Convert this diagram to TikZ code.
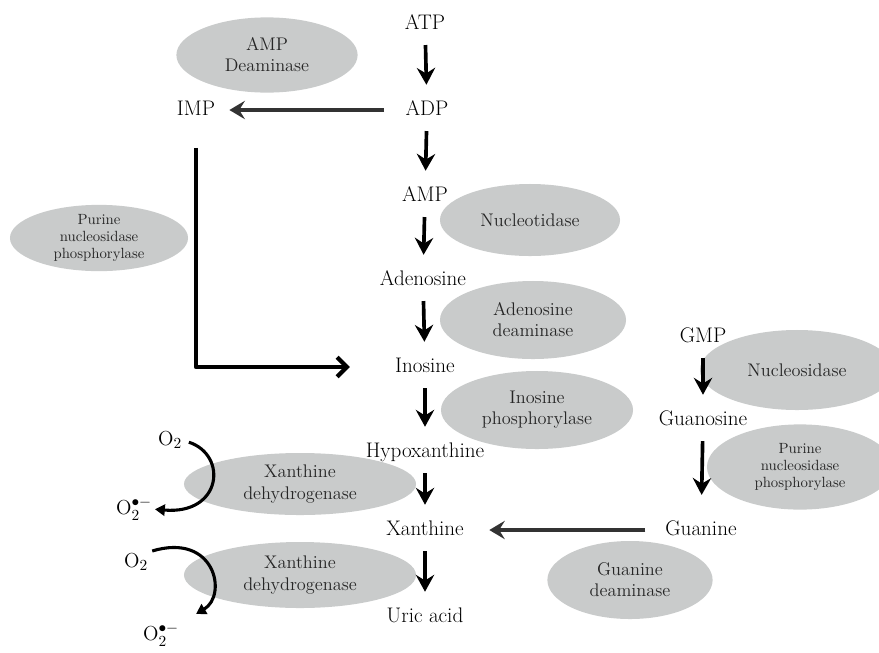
\documentclass[tikz,border=0pt]{standalone}
\usepackage{amsmath}
\usepackage{tikz}
\usepackage{xcolor}
\usetikzlibrary{arrows,arrows.meta,positioning,shapes.geometric}
\definecolor{enzfill}{RGB}{201,203,203}

\begin{document}
\begin{tikzpicture}[x=0.025cm,y=-0.025cm,
  met/.style={font=\fontsize{15}{17}\selectfont,inner sep=0pt,text height=10.5pt,text depth=3pt},
  enz/.style={ellipse,fill=enzfill,inner sep=0pt,align=center,text=black!85,font=\fontsize{13}{15}\selectfont},
  enzs/.style={enz,font=\fontsize{10.5}{12}\selectfont},
  flow/.style={line width=2.6pt,-{Stealth[length=12pt,width=13pt,inset=4pt]},shorten <=8pt,shorten >=11pt},
  react/.style={draw=black!80,line width=2.6pt,-{Stealth[length=11pt,width=13pt,inset=4pt]}},
  redox/.style={line width=2.2pt,-{Triangle[length=7pt,width=8pt]}}]
\useasboundingbox (0,0) rectangle (879,652);

% enzymes
\node[enz,minimum width=4.53cm,minimum height=1.88cm] (ampd) at (267,55){AMP\\Deaminase};
\node[enzs,minimum width=4.45cm,minimum height=1.63cm] (pnpl) at (99,238){Purine\\nucleosidase\\phosphorylase};
\node[enz,minimum width=4.5cm,minimum height=1.8cm] (nt) at (530,220){Nucleotidase};
\node[enz,minimum width=4.65cm,minimum height=1.95cm] (ada) at (533,320){Adenosine\\deaminase};
\node[enz,minimum width=4.8cm,minimum height=1.95cm] (inp) at (537,410){Inosine\\phosphorylase};
\node[enz,minimum width=5.8cm,minimum height=1.55cm] (xdha) at (300,484){Xanthine\\dehydrogenase};
\node[enz,minimum width=5.8cm,minimum height=1.65cm] (xdhb) at (300,575){Xanthine\\dehydrogenase};
\node[enz,minimum width=4.85cm,minimum height=2cm] (ns) at (797,370){Nucleosidase};
\node[enzs,minimum width=4.65cm,minimum height=2.13cm] (pnpr) at (800,467){Purine\\nucleosidase\\phosphorylase};
\node[enz,minimum width=4.13cm,minimum height=1.95cm] (gda) at (630,580){Guanine\\deaminase};

% metabolites
\node[met] (atp) at (425,24){ATP};
\node[met] (adp) at (427,110){ADP};
\node[met] (imp) at (196,110){IMP};
\node[met] (amp) at (425,196){AMP};
\node[met] (ado) at (423,280){Adenosine};
\node[met] (ino) at (425,367){Inosine};
\node[met] (hyp) at (425,452){Hypoxanthine};
\node[met] (xan) at (425,530){Xanthine};
\node[met] (uric) at (425,617){Uric acid};
\node[met] (gmp) at (703,337){GMP};
\node[met] (guo) at (703,420){Guanosine};
\node[met] (gua) at (701,530){Guanine};

% oxygen
\node[met] (oa) at (170,440){$\mathrm{O}_2$};
\node[met] (osa) at (134,509){$\mathrm{O}_2^{\bullet-}$};
\node[met] (ob) at (136,562){$\mathrm{O}_2$};
\node[met] (osb) at (161,635){$\mathrm{O}_2^{\bullet-}$};

\draw[flow] (atp) -- (adp);
\draw[flow] (adp) -- (amp);
\draw[flow] (amp) -- (ado);
\draw[flow] (ado) -- (ino);
\draw[flow] (ino) -- (hyp);
\draw[flow] (hyp) -- (xan);
\draw[flow] (xan) -- (uric);
\draw[flow] (gmp) -- (guo);
\draw[flow,shorten >=18pt] (guo) -- (gua);

\draw[react,shorten <=15pt,shorten >=10pt] (adp) -- (imp);
\draw[react,shorten <=14pt,shorten >=18pt] (gua) -- (xan);
\draw[line width=3pt,line join=round,-{Straight Barb[length=7pt,width=14pt]},shorten <=20pt,shorten >=32pt] (imp) |- (ino);

\draw[redox,shorten <=5pt,shorten >=2pt] (oa.east) .. controls (228,455) and (222,515) .. (osa.east);
\draw[redox,shorten <=3pt] (ob.north east) .. controls (215,532) and (228,595) .. ([shift={(12pt,8pt)}]osb.north east);

\end{tikzpicture}
\end{document}
